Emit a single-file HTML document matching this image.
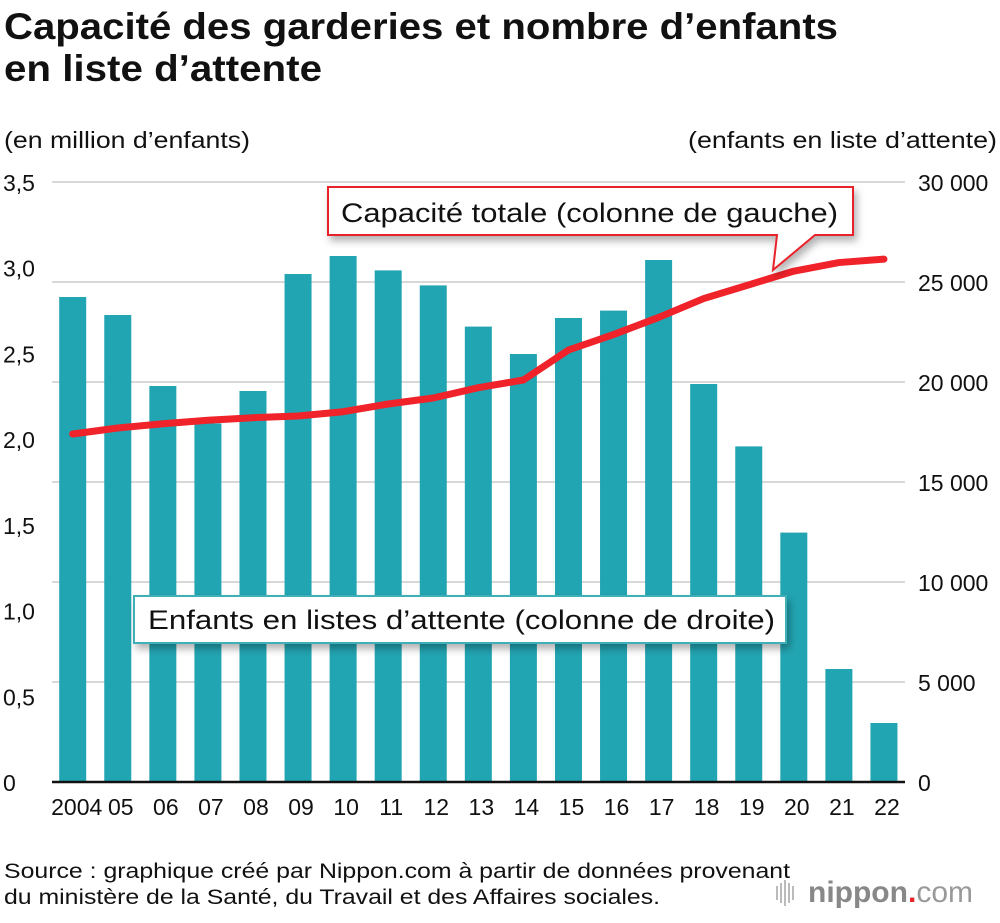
<!DOCTYPE html>
<html><head><meta charset="utf-8"><style>
body{margin:0;background:#fff;font-family:"Liberation Sans",Arial,sans-serif;}
svg text{font-family:"Liberation Sans",Arial,sans-serif;}
</style></head><body>
<svg id="c" width="1000" height="918" xmlns="http://www.w3.org/2000/svg">
<defs>
<filter id="sh" x="-10%" y="-30%" width="120%" height="170%"><feDropShadow dx="3" dy="5" stdDeviation="4" flood-color="#000" flood-opacity="0.3"/></filter>
</defs>
<text x="4" y="39" font-size="37" font-weight="bold" fill="#111" textLength="834" lengthAdjust="spacingAndGlyphs">Capacité des garderies et nombre d’enfants</text>
<text x="4" y="81" font-size="37" font-weight="bold" fill="#111" textLength="318" lengthAdjust="spacingAndGlyphs">en liste d’attente</text>
<text x="4" y="148" font-size="23" fill="#111" textLength="246" lengthAdjust="spacingAndGlyphs">(en million d’enfants)</text>
<text x="688" y="148" font-size="23" fill="#111" textLength="309" lengthAdjust="spacingAndGlyphs">(enfants en liste d’attente)</text>
<g id="grid"></g><g id="bars"></g><g id="line"></g><g id="axes"></g><g id="labels"></g>
<g filter="url(#sh)">
<path d="M328,187 H853 V235 H815 L773,270 L777,235 H328 Z" fill="#fff" stroke="#e8232a" stroke-width="2"/>
</g>
<text x="341" y="222" font-size="27" fill="#111" textLength="497" lengthAdjust="spacingAndGlyphs">Capacité totale (colonne de gauche)</text>
<g filter="url(#sh)">
<rect x="134" y="596" width="652" height="47" fill="#fff" stroke="#3fb0b8" stroke-width="2"/>
</g>
<text x="148" y="629" font-size="27" fill="#111" textLength="627" lengthAdjust="spacingAndGlyphs">Enfants en listes d’attente (colonne de droite)</text>
<text x="4" y="878" font-size="21" fill="#111" textLength="786" lengthAdjust="spacingAndGlyphs">Source : graphique créé par Nippon.com à partir de données provenant</text>
<text x="4" y="904" font-size="21" fill="#111" textLength="656" lengthAdjust="spacingAndGlyphs">du ministère de la Santé, du Travail et des Affaires sociales.</text>
<g>
<g fill="#bbb"><rect x="776" y="886" width="2" height="14"/><rect x="780" y="883" width="2" height="20"/><rect x="784" y="880" width="2" height="26"/><rect x="788" y="883" width="2" height="20"/><rect x="792" y="886" width="2" height="14"/></g>
<text x="808" y="902" font-size="30" fill="#888" font-weight="bold">nippon<tspan fill="#e8232a">.</tspan><tspan font-weight="normal" fill="#999">com</tspan></text>
</g>
</svg>
<script>
const years=["2004","05","06","07","08","09","10","11","12","13","14","15","16","17","18","19","20","21","22"];
const waiting=[24250,23350,19800,17930,19550,25400,26300,25580,24830,22770,21400,23200,23570,26100,19900,16780,12470,5650,2950];
const capacity=[2.03,2.065,2.09,2.11,2.125,2.135,2.16,2.205,2.24,2.30,2.345,2.52,2.61,2.71,2.82,2.90,2.98,3.03,3.05];
const leftTicks=["0","0,5","1,0","1,5","2,0","2,5","3,0","3,5"];
const rightTicks=["0","5 000","10 000","15 000","20 000","25 000","30 000"];
const NS="http://www.w3.org/2000/svg";
const x0=52,x1=905,yb=782,yt=182;
const xc=i=>72.7+i*45.07;
const yR=v=>yb-(v/30000)*(yb-yt);
const yL=v=>yb-(v/3.5)*(yb-yt);
function mk(t,a,p){const e=document.createElementNS(NS,t);for(const k in a)e.setAttribute(k,a[k]);p.appendChild(e);return e;}
const G=document.getElementById('grid'),B=document.getElementById('bars'),L=document.getElementById('line'),A=document.getElementById('axes'),T=document.getElementById('labels');
rightTicks.forEach((s,i)=>{const v=i*5000;const y=yR(v);
 if(i>0){const g=mk('line',{x1:x0,x2:x1,y1:y,y2:y,stroke:'#ccc','stroke-width':1.5},G);
 
 }
 const t=mk('text',{x:918,y:y+9,'font-size':23,fill:'#111'},T);t.textContent=s;
 
 
});
leftTicks.forEach((s,i)=>{const y=yL(i*0.5);
 const t=mk('text',{x:3,y:y+9,'font-size':23,fill:'#111'},T);t.textContent=s;
 
 
});
waiting.forEach((v,i)=>{const y=yR(v);
 const r=mk('rect',{x:xc(i)-13.5,y:y,width:27,height:yb-y,fill:'#22a5b2'},B);
 
 
 const t=mk('text',{x:i==0?xc(i)+4:xc(i)+3,y:815,'font-size':23,fill:'#111','text-anchor':'middle'},T);t.textContent=years[i];
 
 
});
const ax=mk('line',{x1:x0,x2:x1,y1:yb,y2:yb,stroke:'#111','stroke-width':2.5},A);


const pl=mk('polyline',{points:capacity.map((v,i)=>xc(i)+','+yL(v)).join(' '),fill:'none',stroke:'#f0222a','stroke-width':7,'stroke-linecap':'round','stroke-linejoin':'round'},L);


</script>
</body></html>
